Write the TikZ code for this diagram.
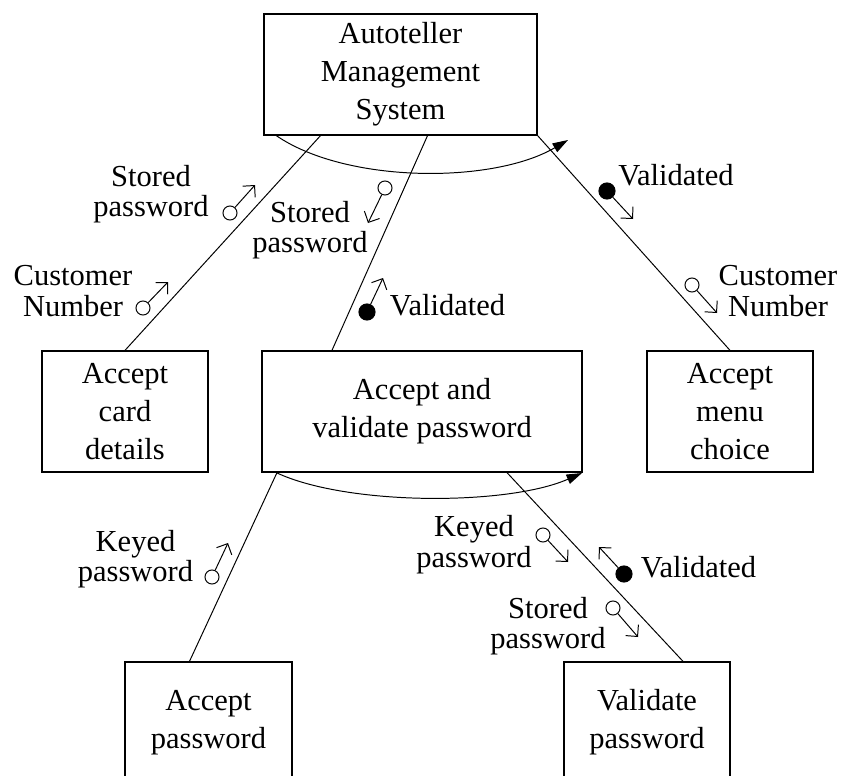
\documentclass[tikz,border=0pt]{standalone}
\usepackage{fontspec}
\setmainfont{Liberation Serif}
\usetikzlibrary{arrows.meta}

\begin{document}
\begin{tikzpicture}[x=0.025cm,y=-0.025cm,
    module/.style={draw,line width=0.9pt,inner sep=0pt,align=center,
      minimum height=3.025cm,font=\fontsize{21.7pt}{27pt}\selectfont},
    lbl/.style={inner sep=0pt,align=center,font=\fontsize{21.7pt}{21.7pt}\selectfont},
    dataflag/.style={circle,draw,line width=0.7pt,fill=white,inner sep=0pt,minimum size=10pt},
    ctrlflag/.style={circle,draw,line width=0.7pt,fill=black,inner sep=0pt,minimum size=11.5pt},
    couple/.style={line width=0.7pt,-{Straight Barb[length=6pt,width=12pt]}},
    call/.style={line width=0.7pt},
    loop/.style={line width=0.7pt,-{Triangle[length=11pt,width=7pt]}}]
  \useasboundingbox (0,0) rectangle (842,776);

  \node[module,minimum width=6.825cm] (ams) at (400.5,74.5) {Autoteller\\Management\\System};
  \node[module,minimum width=4.15cm] (card) at (125,411.5) {Accept\\card\\details};
  \node[module,minimum width=8cm] (avp) at (422,411.5) {Accept and\\validate password};
  \node[module,minimum width=4.15cm] (menu) at (730,411.5) {Accept\\menu\\choice};
  \node[module,minimum width=4.175cm] (accpw) at (208.5,722.5) {Accept\\password};
  \node[module,minimum width=4.15cm] (valpw) at (647,722.5) {Validate\\password};

  \draw[call] ([xshift=-2cm]ams.south) -- (card.north);
  \draw[call] ([xshift=0.675cm]ams.south) -- ([xshift=-2.25cm]avp.north);
  \draw[call] (ams.south east) -- (menu.north);
  \draw[call] ([xshift=-3.625cm]avp.south) -- ([xshift=-0.475cm]accpw.north);
  \draw[call] ([xshift=2.125cm]avp.south) -- ([xshift=0.9cm]valpw.north);

  \coordinate (amsloop) at (568,140);
  \draw[loop] ([xshift=0.325cm]ams.south west) .. controls +(70,48) and +(-75,44) .. (amsloop);
  \coordinate (avploop) at (582,473);
  \draw[loop] ([xshift=0.375cm]avp.south west) .. controls +(70,33) and +(-75,33) .. (avploop);

  \node[dataflag] (spw1) at (230,213) {};
  \coordinate (spw1tip) at (255,185);
  \draw[couple] (spw1) -- (spw1tip);
  \node[lbl] (spw1lbl) at (151,194) {Stored\\password};

  \node[dataflag] (cno1) at (143,308) {};
  \coordinate (cno1tip) at (168,282);
  \draw[couple] (cno1) -- (cno1tip);
  \node[lbl] (cno1lbl) at (73,291) {Customer\\Number};

  \node[dataflag] (spw2) at (385,188) {};
  \coordinate (spw2tip) at (368,223);
  \draw[couple] (spw2) -- (spw2tip);
  \node[lbl] (spw2lbl) at (310,230) {Stored\\password};

  \node[ctrlflag] (val1) at (367,312) {};
  \coordinate (val1tip) at (383,278);
  \draw[couple] (val1) -- (val1tip);
  \node[lbl] (val1lbl) at (447.5,305.5) {Validated};

  \node[ctrlflag] (val2) at (607,191) {};
  \coordinate (val2tip) at (633,219);
  \draw[couple] (val2) -- (val2tip);
  \node[lbl] (val2lbl) at (676,175.5) {Validated};

  \node[dataflag] (cno2) at (692,285) {};
  \coordinate (cno2tip) at (717,313);
  \draw[couple] (cno2) -- (cno2tip);
  \node[lbl] (cno2lbl) at (778,291) {Customer\\Number};

  \node[dataflag] (kpw1) at (212,577) {};
  \coordinate (kpw1tip) at (228,543);
  \draw[couple] (kpw1) -- (kpw1tip);
  \node[lbl] (kpw1lbl) at (135.5,559) {Keyed\\password};

  \node[dataflag] (kpw2) at (543,535) {};
  \coordinate (kpw2tip) at (568,562);
  \draw[couple] (kpw2) -- (kpw2tip);
  \node[lbl] (kpw2lbl) at (474,544.5) {Keyed\\password};

  \node[ctrlflag] (val3) at (624,574) {};
  \coordinate (val3tip) at (599,547);
  \draw[couple] (val3) -- (val3tip);
  \node[lbl] (val3lbl) at (698.5,567.5) {Validated};

  \node[dataflag] (spw3) at (613,608) {};
  \coordinate (spw3tip) at (638,637);
  \draw[couple] (spw3) -- (spw3tip);
  \node[lbl] (spw3lbl) at (548,626) {Stored\\password};
\end{tikzpicture}
\end{document}
